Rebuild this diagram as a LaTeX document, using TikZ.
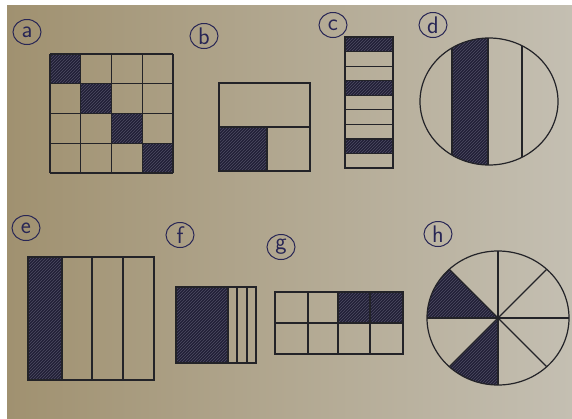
\documentclass[tikz,border=0pt]{standalone}
\usepackage{tikz}
\usetikzlibrary{shapes.geometric,patterns}
\definecolor{paperL}{RGB}{160,145,112}
\definecolor{paperM}{RGB}{184,173,148}
\definecolor{paperR}{RGB}{196,191,178}
\definecolor{ink}{RGB}{40,38,85}
\definecolor{pen}{RGB}{35,35,40}
\definecolor{hatch}{RGB}{34,32,55}
\definecolor{streak}{RGB}{78,76,100}

\begin{document}
\begin{tikzpicture}[x=1pt,y=-1pt,
    lab/.style={draw=ink,ellipse,line width=1pt,minimum width=28pt,minimum height=25pt,inner sep=0pt,text=ink,font=\sffamily\fontsize{24}{24}\selectfont},
    fig/.style={draw=pen,line width=1.2pt},
    dark/.style={fill=hatch,postaction={pattern=north east lines,pattern color=streak}}]
    \useasboundingbox (0,0) rectangle (572,418);
    \fill[white] (0,0) rectangle (572,418);
    \shade[left color=paperL,middle color=paperM,right color=paperR] (7,5) rectangle (572,418);

    \node[lab] (a) at (27,32) {a};
    \node[lab] (b) at (204,36) {b};
    \node[lab] (c) at (333,25) {c};
    \node[lab] (d) at (433,25) {d};
    \node[lab] (e) at (26,228) {e};
    \node[lab] (f) at (180,235) {f};
    \node[lab] (g) at (281,247) {g};
    \node[lab] (h) at (438,234) {h};

    \foreach \i in {0,...,3} \fill[dark] ({50+\i*30.75},{54+\i*29.75}) rectangle ++(30.75,29.75);
    \foreach \i in {0,...,4} {
      \draw[fig] ({50+\i*30.75},54) -- ++(0,119);
      \draw[fig] (50,{54+\i*29.75}) -- ++(123,0);
    }

    \fill[dark] (219,127) rectangle (267,171);
    \draw[fig] (219,83) rectangle (310,171) (219,127) -- (310,127) (267,127) -- (267,171);

    \foreach \r in {0,3,7} \fill[dark] (345,{37+\r*14.56}) rectangle ++(48,14.56);
    \foreach \r in {1,...,8} \draw[fig] (345,{37+\r*14.56}) -- ++(48,0);
    \draw[fig] (345,37) rectangle (393,168);

    \coordinate (dc) at (489,101.5);
    \begin{scope}
      \clip (dc) ellipse [x radius=69,y radius=63.5];
      \fill[dark] (452,30) rectangle (488,175);
      \foreach \x in {452,488,522} \draw[fig] (\x,30) -- (\x,175);
    \end{scope}
    \draw[fig] (dc) ellipse [x radius=69,y radius=63.5];

    \fill[dark] (28,257) rectangle (62,380);
    \draw[fig] (28,257) rectangle (154,380);
    \foreach \x in {62,92,123} \draw[fig] (\x,257) -- (\x,380);

    \fill[dark] (176,287) rectangle (228,363);
    \draw[fig] (176,287) rectangle (256,363);
    \foreach \x in {228,237,247} \draw[fig] (\x,287) -- (\x,363);

    \fill[dark] (338,292) rectangle (403,323);
    \draw[fig] (275,292) rectangle (403,354) (275,323) -- (403,323);
    \foreach \x in {308,338,370} \draw[fig] (\x,292) -- (\x,354);

    \coordinate (hc) at (498,318);
    \begin{scope}
      \clip (hc) ellipse [x radius=71,y radius=67];
      \fill[dark] (hc) -- +(-135:120) -- +(-180:120) -- cycle;
      \fill[dark] (hc) -- +(90:120) -- +(135:120) -- cycle;
      \foreach \t in {0,45,...,315} \draw[fig] (hc) -- +(\t:110);
    \end{scope}
    \draw[fig] (hc) ellipse [x radius=71,y radius=67];
\end{tikzpicture}
\end{document}
